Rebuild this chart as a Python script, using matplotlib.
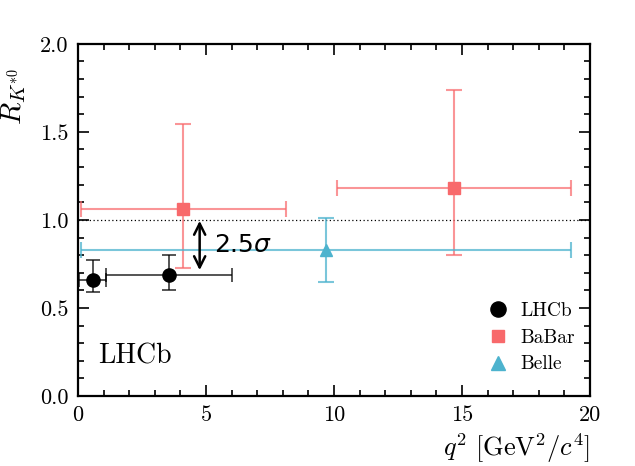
import matplotlib
matplotlib.use("Agg")
import matplotlib.pyplot as plt

plt.rcParams['font.family'] = 'serif'
plt.rcParams['font.serif'] = ['cmr10']
plt.rcParams['mathtext.fontset'] = 'cm'
plt.rcParams['axes.unicode_minus'] = False

# LHCb
lhcb_x = [0.575, 3.55]
lhcb_xlo = [0.045, 1.1]
lhcb_xhi = [1.1, 6.0]
lhcb_y = [0.66, 0.69]
lhcb_ylo = [0.59, 0.60]
lhcb_yhi = [0.77, 0.80]

# BaBar
babar_x = [4.1, 14.7]
babar_xlo = [0.1, 10.11]
babar_xhi = [8.12, 19.25]
babar_y = [1.06, 1.18]
babar_ylo = [0.73, 0.80]
babar_yhi = [1.545, 1.735]

# Belle
belle_x = [9.67]
belle_xlo = [0.1]
belle_xhi = [19.25]
belle_y = [0.83]
belle_ylo = [0.645]
belle_yhi = [1.01]

pink = '#F8696B'
cyan = '#4DB3CE'


def xerr(x, lo, hi):
    return [[a - b for a, b in zip(x, lo)], [c - a for a, c in zip(x, hi)]]


fig = plt.figure(figsize=(6.35, 4.66), dpi=100)
ax = fig.add_axes([0.123, 0.150, 0.806, 0.756])

ax.axhline(1.0, color='black', ls=(0, (1, 2)), lw=0.9, zorder=1)

ax.errorbar(babar_x, babar_y, xerr=xerr(babar_x, babar_xlo, babar_xhi),
            yerr=xerr(babar_y, babar_ylo, babar_yhi), fmt='none',
            ecolor=pink, elinewidth=1.5, capsize=6, capthick=1.5, alpha=0.7, zorder=2)
ax.plot(babar_x, babar_y, 's', color=pink, ms=8, zorder=3, label='BaBar')

ax.errorbar(belle_x, belle_y, xerr=xerr(belle_x, belle_xlo, belle_xhi),
            yerr=xerr(belle_y, belle_ylo, belle_yhi), fmt='none',
            ecolor=cyan, elinewidth=1.5, capsize=6, capthick=1.5, alpha=0.75, zorder=2)
ax.plot(belle_x, belle_y, '^', color=cyan, ms=9, zorder=3, label='Belle')

ax.errorbar(lhcb_x, lhcb_y, xerr=xerr(lhcb_x, lhcb_xlo, lhcb_xhi),
            yerr=xerr(lhcb_y, lhcb_ylo, lhcb_yhi), fmt='none',
            ecolor='black', elinewidth=1.1, capsize=5, capthick=1.1, alpha=0.85, zorder=4)
ax.plot(lhcb_x, lhcb_y, 'o', color='black', ms=9.5, zorder=5, label='LHCb')

ax.annotate('', xy=(4.75, 0.995), xytext=(4.75, 0.715),
            arrowprops=dict(arrowstyle='<->', color='black', lw=1.8,
                            shrinkA=0, shrinkB=0, mutation_scale=20))
ax.text(5.3, 0.86, r'2.5$\sigma$', fontsize=18, family='DejaVu Sans',
        math_fontfamily='dejavusans', va='center', ha='left')

ax.text(0.78, 0.225, 'LHCb', fontsize=20, va='center', ha='left')

ax.set_xlim(0, 20)
ax.set_ylim(0, 2.0)
ax.set_xticks([0, 5, 10, 15, 20])
ax.set_xticks(range(0, 21), minor=True)
ax.set_yticks([0.0, 0.5, 1.0, 1.5, 2.0])
ax.set_yticks([i / 10 for i in range(0, 21)], minor=True)
ax.set_yticklabels(['0.0', '0.5', '1.0', '1.5', '2.0'])
ax.tick_params(which='both', direction='in', top=True, right=True, labelsize=16, width=1.2)
ax.tick_params(which='major', length=8, pad=7)
ax.tick_params(which='minor', length=4)
for s in ax.spines.values():
    s.set_linewidth(1.6)

ax.set_xlabel(r'$q^2\ [\mathrm{GeV}^2/c^4]$', fontsize=19, loc='right')
ax.set_ylabel(r'$R_{K^{*0}}$', fontsize=21)
ax.yaxis.set_label_coords(-0.097, 0.85)

h, l = ax.get_legend_handles_labels()
order = [2, 0, 1]
ax.legend([h[i] for i in order], [l[i] for i in order], loc='lower right',
          frameon=False, fontsize=14, handletextpad=0.35, labelspacing=0.45,
          markerscale=1.15, handlelength=1.6, bbox_to_anchor=(1.005, 0.015))

fig.savefig('out.png', dpi=100)
